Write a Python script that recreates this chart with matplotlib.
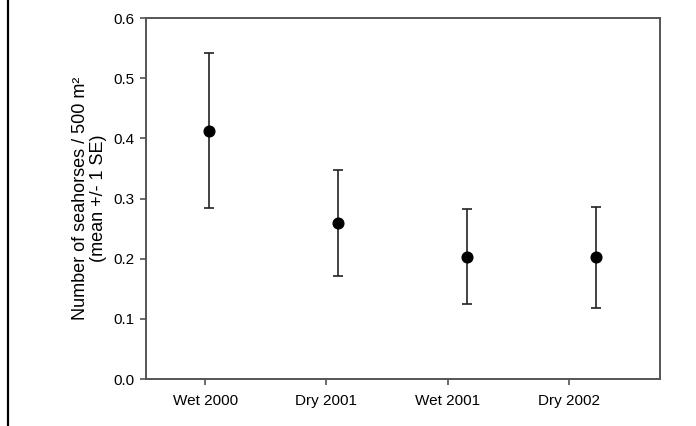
import matplotlib
matplotlib.use("Agg")
import matplotlib.pyplot as plt
from matplotlib.lines import Line2D
import numpy as np

categories = ["Wet 2000", "Dry 2001", "Wet 2001", "Dry 2002"]
means = [0.413, 0.260, 0.203, 0.202]
se = [0.129, 0.088, 0.079, 0.084]

plt.rcParams['font.family'] = ['Liberation Sans', 'DejaVu Sans']

fig = plt.figure(figsize=(6.96, 4.26), dpi=100)
ax = fig.add_axes([0.2098, 0.1103, 0.7382, 0.8474])

x = np.arange(len(categories))
ax.errorbar(x, means, yerr=se, fmt='o', color='black', ecolor='#222222',
            elinewidth=1.2, capsize=3.6, capthick=1.2, markersize=7.7)

# tick labels in the original sit slightly offset from the points
tick_pos = x * 0.94 - 0.03
ax.set_xticks(tick_pos)
ax.set_xticklabels(categories, fontsize=11)
ax.set_xlim(-0.488, 3.496)
ax.set_ylim(0, 0.6)
yt = [0.0, 0.1, 0.2, 0.3, 0.4, 0.5, 0.6]
ax.set_yticks(yt)
ax.set_yticklabels([f"{v:.1f}" for v in yt], fontsize=11)

for s in ax.spines.values():
    s.set_color('#555555')
    s.set_linewidth(1.4)
ax.tick_params(axis='both', direction='out', length=4.5, width=1.1, color='#444444')
ax.tick_params(axis='x', pad=6)
ax.tick_params(axis='y', pad=3.5)

ax.set_ylabel("Number of seahorses / 500 m²\n(mean +/- 1 SE)", fontsize=13,
              labelpad=5, linespacing=1.05)

fig.add_artist(Line2D([7.5/696, 7.5/696], [0, 1], transform=fig.transFigure,
                      color='black', linewidth=1.6))

fig.savefig("out.png", dpi=100)
